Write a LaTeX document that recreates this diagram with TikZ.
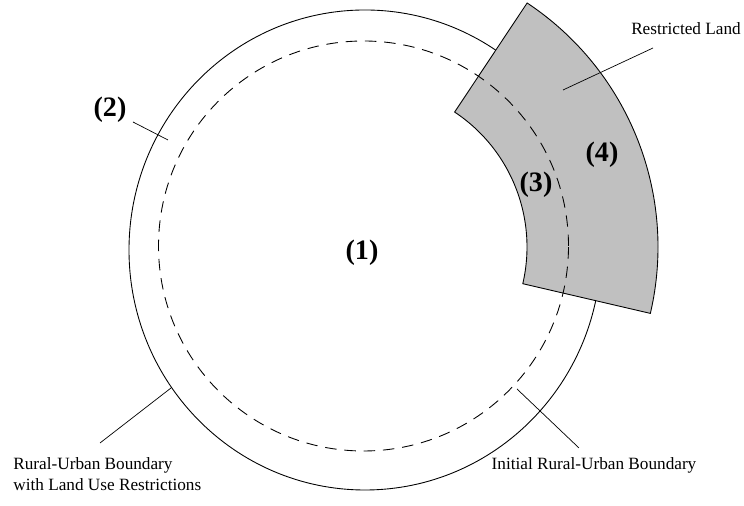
\documentclass[tikz,border=0pt]{standalone}
\usepackage{fontspec}
\setmainfont{Liberation Serif}
\usetikzlibrary{calc}
\definecolor{landgray}{RGB}{192,192,192}
\tikzset{
  boundary/.style={draw, line width=0.5pt},
  initial/.style={draw, line width=0.5pt, dash pattern=on 6.5pt off 4.5pt},
  restricted/.style={draw, fill=landgray, line width=0.5pt},
  leader/.style={draw, line width=0.4pt},
  zone/.style={font=\fontsize{16}{18}\selectfont\bfseries, inner sep=0pt},
  lbl/.style={font=\fontsize{9.8}{12}\selectfont, inner sep=0pt},
}

\begin{document}
\begin{tikzpicture}[x=0.02cm, y=0.02cm]
  \useasboundingbox (0,0) rectangle (744,506);
  \coordinate (c)  at (365,256);
  \coordinate (cs) at (365,259);
  \coordinate (ci) at (363.5,260);

  % boundaries and restricted sector
  \draw[boundary] (c) ellipse[x radius=236, y radius=240];
  \draw[restricted] ($(cs)+(-13.1:162)$)
    arc[start angle=-13.1, end angle=56.4, radius=162]
    -- ($(cs)+(56.4:293)$)
    arc[start angle=56.4, end angle=-13.1, radius=293] -- cycle;
  \draw[initial] (ci) circle[radius=205];

  % zone numbers
  \node[zone] (z1) at (362,253) {(1)};
  \node[zone] (z2) at (110,396) {(2)};
  \node[zone] (z3) at (536,321) {(3)};
  \node[zone] (z4) at (602,351) {(4)};

  % labels
  \node[lbl] (land) at (686,477) {Restricted Land};
  \node[lbl, align=left, anchor=north west] (rub) at (13,49)
    {Rural-Urban Boundary\\with Land Use Restrictions};
  \node[lbl] (irub) at (594,41) {Initial Rural-Urban Boundary};

  % leader lines
  \coordinate (landA) at (653,458);
  \coordinate (landB) at (563,416);
  \coordinate (rubA)  at (100,63);
  \coordinate (rubB)  at (171,118);
  \coordinate (irubA) at (579,58);
  \coordinate (irubB) at (517,117);
  \coordinate (z2A)   at (133,384);
  \coordinate (z2B)   at (168,366);
  \draw[leader] (landA) -- (landB);
  \draw[leader] (rubA) -- (rubB);
  \draw[leader] (irubA) -- (irubB);
  \draw[leader] (z2A) -- (z2B);
\end{tikzpicture}
\end{document}
